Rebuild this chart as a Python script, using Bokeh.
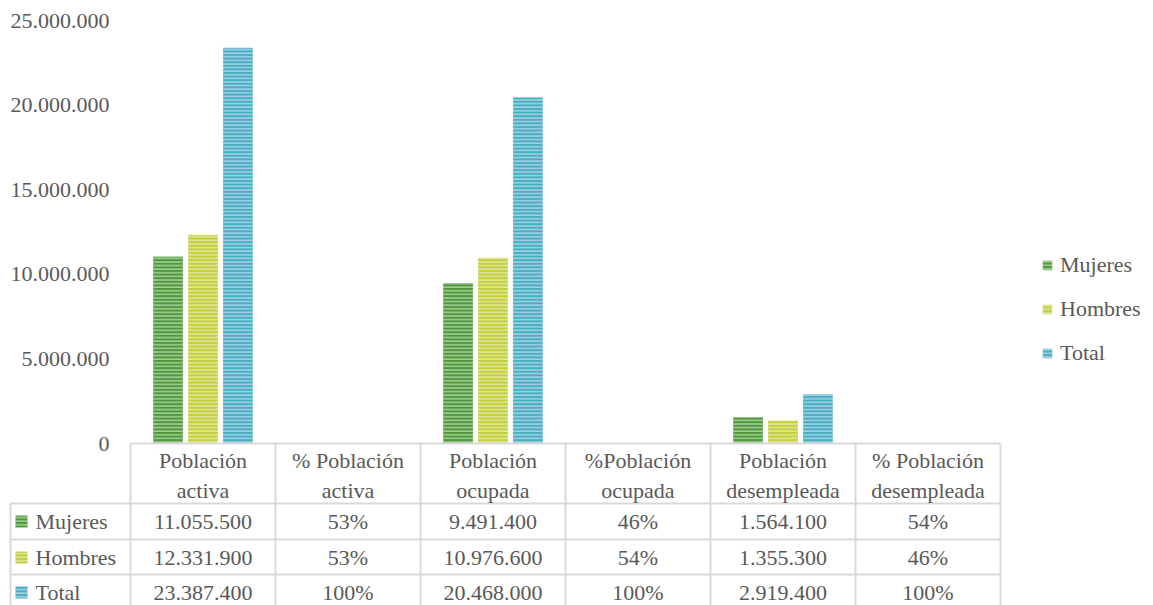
from bokeh.plotting import figure
from bokeh.models import Range1d, FixedTicker, Legend, LegendItem
from bokeh.embed import file_html
from bokeh.resources import INLINE
from bokeh.core.properties import value

# ---------------- data ----------------
categories = ["Población activa", "% Población activa", "Población ocupada",
              "%Población ocupada", "Población desempleada", "% Población desempleada"]
header_labels = ["Población\nactiva", "% Población\nactiva", "Población\nocupada",
                 "%Población\nocupada", "Población\ndesempleada", "% Población\ndesempleada"]
series_names = ["Mujeres", "Hombres", "Total"]
mujeres = [11055500, 0.53, 9491400, 0.46, 1564100, 0.54]
hombres = [12331900, 0.53, 10976600, 0.54, 1355300, 0.46]
total = [23387400, 1.00, 20468000, 1.00, 2919400, 1.00]
is_percent = [False, True, False, True, False, True]
y_ticks = [0, 5000000, 10000000, 15000000, 20000000, 25000000]
y_tick_labels = ["0", "5.000.000", "10.000.000", "15.000.000", "20.000.000", "25.000.000"]

# ---------------- style ----------------
colors = ["#4e9a3a", "#c3cf3b", "#4aabc4"]
FONT = "Liberation Serif"
FS = "22px"
TXT = "#595959"
GRID = "#d9d9d9"
hatch = dict(hatch_pattern="horizontal_line", hatch_color="white", hatch_alpha=0.5,
             hatch_scale=3.6, hatch_weight=1.5)

series = [mujeres, hombres, total]
x_idx = list(range(len(categories)))
offsets = [-0.241, 0.0, 0.241]
bar_w = 0.207
Y_MAX = 25000000


def fmt(v, pct):
    if pct:
        return f"{round(v * 100)}%"
    return f"{int(v):,}".replace(",", ".")


# layout helpers: screen pixel -> data coordinate (category band = 145 px, 0 at y=443, 25M at y=20)
def px2x(px):
    return (px - 130) / 145 - 0.5


def px2y(py):
    return (443 - py) / 423 * Y_MAX


W, H = 1153, 605
p = figure(width=W, height=H, x_range=Range1d(px2x(0), px2x(W)),
           y_range=Range1d(px2y(H), px2y(0)),
           output_backend="svg", toolbar_location=None, min_border=0)
p.outline_line_color = None
p.xgrid.visible = False
p.ygrid.visible = False
p.background_fill_color = "white"

renderers = []
for name, vals, col, off in zip(series_names, series, colors, offsets):
    r = p.vbar(x=[i + off for i in x_idx], top=vals, width=bar_w, bottom=0,
               fill_color=col, line_color="white", line_alpha=0.3, line_width=1, **hatch)
    renderers.append(r)

# y axis placed at the left edge of the category area
ya = p.yaxis[0]
ya.fixed_location = -0.5
ya.bounds = (0, Y_MAX)
ya.ticker = FixedTicker(ticks=y_ticks)
ya.major_label_overrides = dict(zip(y_ticks, y_tick_labels))
ya.axis_line_color = None
ya.major_tick_line_color = None
ya.minor_tick_line_color = None
ya.major_tick_in = 0
ya.major_tick_out = 0
ya.major_label_standoff = 21
ya.major_label_text_font = FONT
ya.major_label_text_font_size = FS
ya.major_label_text_color = TXT

# x axis = header row of the data table
xa = p.xaxis[0]
xa.fixed_location = 0
xa.bounds = (-0.5, len(categories) - 0.5)
xa.ticker = FixedTicker(ticks=x_idx, minor_ticks=[])
xa.major_label_overrides = dict(zip(x_idx, header_labels))
xa.major_tick_in = 0
xa.major_tick_out = 0
xa.major_tick_line_color = None
xa.minor_tick_line_color = None
xa.axis_line_color = GRID
xa.axis_line_width = 2
xa.major_label_standoff = 4
xa.major_label_text_font = FONT
xa.major_label_text_font_size = FS
xa.major_label_text_color = TXT

# ---------------- data table grid ----------------
row_tops = [px2y(503), px2y(539), px2y(574)]
row_h = row_tops[0] - row_tops[1]
row_bottom = row_tops[-1] - row_h
x_left = px2x(10)
x_right = len(categories) - 0.5

hy = row_tops + [row_bottom]
p.segment(x0=[x_left] * len(hy), x1=[x_right] * len(hy), y0=hy, y1=hy,
          line_color=GRID, line_width=2)
vx = [i - 0.5 for i in range(len(categories) + 1)]
p.segment(x0=vx, x1=vx, y0=[0] * len(vx), y1=[row_bottom] * len(vx),
          line_color=GRID, line_width=2)
p.segment(x0=[x_left], x1=[x_left], y0=[row_tops[0]], y1=[row_bottom],
          line_color=GRID, line_width=2)

for ri, (name, vals, col) in enumerate(zip(series_names, series, colors)):
    yc = row_tops[ri] - row_h / 2
    p.scatter(x=[px2x(21)], y=[yc], marker="square", size=12, fill_color=col,
              line_color=None, **hatch)
    p.text(x=[px2x(35)], y=[yc], text=[name], text_align="left", text_baseline="middle",
           text_font=value(FONT), text_font_size=FS, text_color=TXT)
    p.text(x=x_idx, y=[yc] * len(x_idx), text=[fmt(v, pc) for v, pc in zip(vals, is_percent)],
           text_align="center", text_baseline="middle",
           text_font=value(FONT), text_font_size=FS, text_color=TXT)

# ---------------- legend ----------------
legend = Legend(items=[LegendItem(label=n, renderers=[r]) for n, r in zip(series_names, renderers)],
                location=(1041, H - 366), orientation="vertical",
                glyph_width=12, glyph_height=12, label_height=21, spacing=18,
                padding=0, margin=0, label_standoff=7,
                border_line_color=None, background_fill_alpha=0,
                label_text_font=FONT, label_text_font_size=FS, label_text_color=TXT)
p.add_layout(legend)

open("out.html", "w").write(file_html(p, INLINE))
